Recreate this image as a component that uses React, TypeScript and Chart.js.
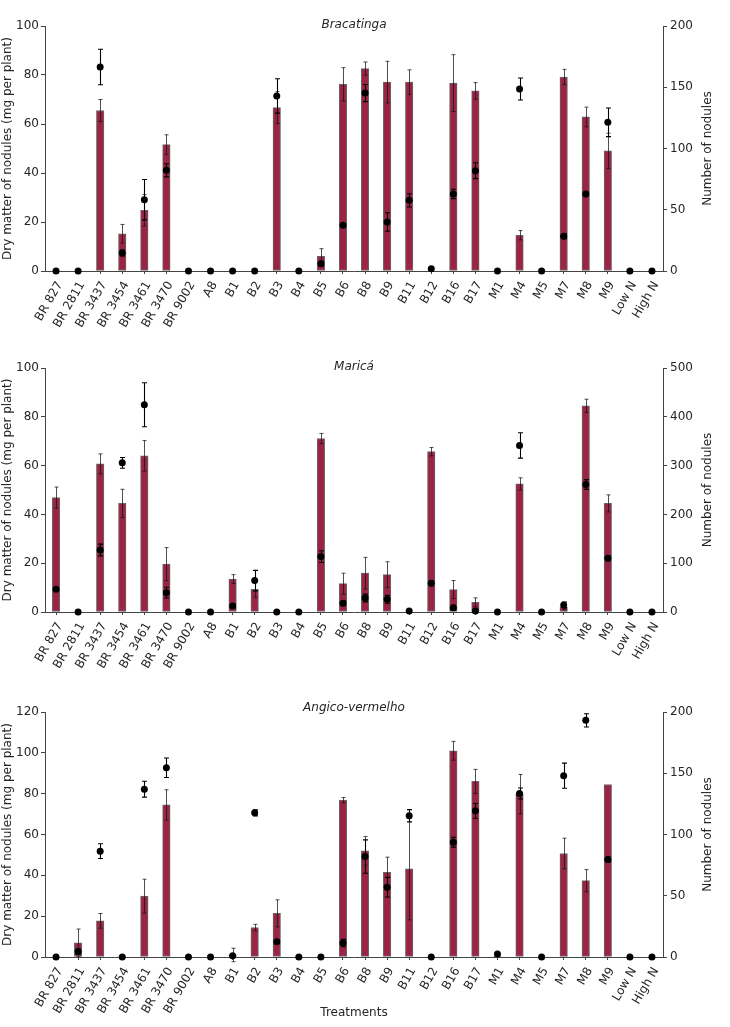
import React, { useEffect, useRef } from 'react';
import { Chart, registerables } from 'chart.js';

Chart.register(...registerables);
Chart.defaults.font.family = '"DejaVu Sans", sans-serif';
Chart.defaults.font.size = 12;
Chart.defaults.color = '#262626';

const categories = [
  'BR 827', 'BR 2811', 'BR 3437', 'BR 3454', 'BR 3461', 'BR 3470', 'BR 9002', 'A8', 'B1', 'B2',
  'B3', 'B4', 'B5', 'B6', 'B8', 'B9', 'B11', 'B12', 'B16', 'B17',
  'M1', 'M4', 'M5', 'M7', 'M8', 'M9', 'Low N', 'High N',
];

// Bracatinga
const bracatingaDry = [0, 0, 65.5, 15.2, 24.8, 51.6, 0, 0, 0, 0, 66.7, 0, 6.0, 76.2, 82.6, 77.1, 77.1, 0, 76.7, 73.5, 0, 14.6, 0, 79.2, 62.9, 49.0, 0, 0];
const bracatingaDryErr = [0, 0, 4.5, 3.8, 6.4, 4.0, 0, 0, 0, 0, 6.5, 0, 3.1, 6.8, 2.7, 8.5, 5.0, 0, 11.6, 3.4, 0, 1.9, 0, 3.1, 4.0, 7.2, 0, 0];
const bracatingaNod = [0, 0, 166.5, 14.7, 58.2, 82.2, 0, 0, 0, 0, 142.9, 0, 6, 37.3, 145.3, 40, 57.7, 1.9, 62.9, 81.9, 0, 148.6, 0, 28.3, 62.9, 121.4, 0, 0];
const bracatingaNodErr = [0, 0, 14.5, 2.5, 16.5, 5.4, 0, 0, 0, 0, 14, 0, 2, 1.5, 7, 7.6, 5.4, 1.5, 3.8, 6.5, 0, 9, 0, 2, 1.5, 11.7, 0, 0];

// Maricá
const maricaDry = [46.9, 0, 60.7, 44.5, 64.0, 19.6, 0, 0, 13.5, 9.3, 0, 0, 71.1, 11.6, 15.9, 15.3, 0, 65.7, 9.2, 4.0, 0, 52.5, 0, 1.9, 84.5, 44.5, 0, 0];
const maricaDryErr = [4.3, 0, 4.1, 5.8, 6.3, 6.8, 0, 0, 1.8, 3.3, 0, 0, 2.1, 4.3, 6.5, 5.3, 0, 1.7, 3.7, 1.8, 0, 2.5, 0, 1.0, 2.7, 3.5, 0, 0];
const maricaNod = [46.5, 0, 127, 305.7, 424.7, 39.7, 0, 0, 12.3, 64.3, 0, 0, 113.5, 17.8, 28.7, 26, 2, 58.8, 8.9, 2, 0, 341.3, 0, 14.4, 261.3, 110, 0, 0];
const maricaNodErr = [3, 0, 12, 11, 45, 11, 0, 0, 4, 21, 0, 0, 12, 5, 8, 8, 0, 5, 5, 0, 0, 26, 0, 6, 10, 5, 0, 0];

// Angico-vermelho
const angicoDry = [0, 6.9, 17.7, 0, 29.8, 74.5, 0, 0, 1.0, 14.4, 21.4, 0, 0, 76.8, 52.0, 41.5, 43.2, 0, 101, 86, 0.5, 79.8, 0, 50.7, 37.4, 84.5, 0, 0];
const angicoDryErr = [0, 6.8, 3.6, 0, 8.3, 7.4, 0, 0, 3.3, 1.6, 6.6, 0, 0, 1.3, 7, 7.4, 25, 0, 4.6, 5.9, 0, 9.6, 0, 7.5, 5.4, 0, 0, 0];
const angicoNod = [0, 4.4, 86.4, 0, 137, 154.5, 0, 0, 1, 117.7, 12.5, 0, 0, 11.4, 82, 57, 115.3, 0, 93.7, 119.3, 2.5, 133.5, 0, 148, 193.2, 79.6, 0, 0];
const angicoNodErr = [0, 2, 6, 0, 6.5, 8, 0, 0, 1, 2.5, 1.5, 0, 0, 3, 13.6, 8, 5, 0, 4, 6, 1, 4.4, 0, 10.3, 5.4, 2, 0, 0];

const BAR_COLOR = '#9b2445';
const AXIS_COLOR = '#444444';
const TEXT_COLOR = '#262626';

const errorBarPlugin = {
  id: 'errorBars',
  afterDatasetDraw(chart: any, args: any) {
    const ds: any = chart.data.datasets[args.index];
    const errs: number[] | undefined = ds.errors;
    if (!errs) return;
    const meta = args.meta;
    const yScale = chart.scales[meta.yAxisID];
    const ctx = chart.ctx;
    ctx.save();
    ctx.strokeStyle = ds.errorColor;
    ctx.lineWidth = ds.errorWidth;
    const cap = ds.errorCap;
    meta.data.forEach((el: any, i: number) => {
      const v = ds.data[i];
      const e = errs[i];
      if (!e || v == null) return;
      const x = Math.round(el.x) + 0.5;
      const yTop = yScale.getPixelForValue(v + e);
      const yBot = yScale.getPixelForValue(v - e);
      ctx.beginPath();
      ctx.moveTo(x, yTop);
      ctx.lineTo(x, yBot);
      ctx.moveTo(x - cap, yTop);
      ctx.lineTo(x + cap, yTop);
      ctx.moveTo(x - cap, yBot);
      ctx.lineTo(x + cap, yBot);
      ctx.stroke();
    });
    ctx.restore();
  },
};

const panelTextPlugin = {
  id: 'panelText',
  afterDraw(chart: any) {
    const o = chart.options.plugins.panelText;
    if (!o) return;
    const { ctx, chartArea } = chart;
    ctx.save();
    ctx.fillStyle = TEXT_COLOR;
    ctx.font = 'italic 12px "DejaVu Sans", sans-serif';
    ctx.textAlign = 'center';
    ctx.textBaseline = 'middle';
    ctx.fillText(o.title, (chartArea.left + chartArea.right) / 2, chartArea.top + o.titleDy);
    ctx.font = '12px "DejaVu Sans", sans-serif';
    ctx.translate(o.rightLabelX, (chartArea.top + chartArea.bottom) / 2);
    ctx.rotate(-Math.PI / 2);
    ctx.fillText(o.rightLabel, 0, 0);
    ctx.restore();
  },
};

type PanelProps = {
  top: number;
  height: number;
  areaTop: number;
  areaBottom: number;
  title: string;
  titleDy: number;
  dry: number[];
  dryErr: number[];
  nod: number[];
  nodErr: number[];
  leftMax: number;
  rightMax: number;
  rightStep: number;
  showX: boolean;
};

function Panel(p: PanelProps) {
  const ref = useRef<HTMLCanvasElement | null>(null);
  useEffect(() => {
    if (!ref.current) return;
    const xHeight = p.height - p.areaBottom;
    const chart = new Chart(ref.current, {
      type: 'bar',
      data: {
        labels: categories,
        datasets: [
          {
            type: 'bar',
            label: 'Dry matter',
            data: p.dry,
            yAxisID: 'y',
            backgroundColor: BAR_COLOR,
            borderColor: 'rgba(0,0,0,0.6)',
            borderWidth: 1,
            borderSkipped: false,
            barThickness: 7.5,
            order: 1,
            errors: p.dryErr,
            errorColor: 'rgba(20,20,20,0.75)',
            errorWidth: 1,
            errorCap: 2,
          } as any,
          {
            type: 'line',
            label: 'Number of nodules',
            data: p.nod,
            yAxisID: 'y1',
            showLine: false,
            pointRadius: 3.5,
            pointBackgroundColor: '#000',
            pointBorderColor: '#000',
            pointBorderWidth: 0,
            clip: false,
            order: 0,
            errors: p.nodErr,
            errorColor: '#000',
            errorWidth: 1.1,
            errorCap: 2.5,
          } as any,
        ],
      },
      options: {
        responsive: false,
        animation: false,
        events: [],
        layout: { padding: { top: p.areaTop, left: 0, right: 0, bottom: 0 } },
        plugins: {
          legend: { display: false },
          tooltip: { enabled: false },
          panelText: { title: p.title, titleDy: p.titleDy, rightLabel: 'Number of nodules', rightLabelX: 708 },
        } as any,
        scales: {
          x: {
            type: 'category',
            offset: true,
            grid: { display: true, offset: false, drawOnChartArea: false, drawTicks: true, tickLength: 3, color: AXIS_COLOR },
            border: { display: true, color: AXIS_COLOR, width: 1 },
            ticks: { autoSkip: false, minRotation: 60, maxRotation: 60, padding: 5, labelOffset: 4, color: TEXT_COLOR, font: { size: 12 } },
            title: { display: p.showX, text: 'Treatments', color: TEXT_COLOR, font: { size: 12 }, padding: { top: 0, bottom: 7 } },
            afterFit: (s: any) => { s.height = xHeight; },
          },
          y: {
            type: 'linear',
            position: 'left',
            min: 0,
            max: p.leftMax,
            grid: { display: true, drawOnChartArea: false, tickLength: 4, color: AXIS_COLOR },
            border: { display: true, color: AXIS_COLOR, width: 1 },
            ticks: { stepSize: 20, padding: 2, color: TEXT_COLOR, font: { size: 12 } },
            title: { display: true, text: 'Dry matter of nodules (mg per plant)', color: TEXT_COLOR, font: { size: 12 }, padding: { top: 1, bottom: 0 } },
            afterFit: (s: any) => { s.width = 45; },
          },
          y1: {
            type: 'linear',
            position: 'right',
            min: 0,
            max: p.rightMax,
            grid: { display: true, drawOnChartArea: false, tickLength: 4, color: AXIS_COLOR },
            border: { display: true, color: AXIS_COLOR, width: 1 },
            ticks: { stepSize: p.rightStep, padding: 3, color: TEXT_COLOR, font: { size: 12 } },
            afterFit: (s: any) => { s.width = 67; },
          },
        },
      } as any,
      plugins: [errorBarPlugin, panelTextPlugin],
    });
    return () => chart.destroy();
  }, []);
  return (
    <div style={{ position: 'absolute', left: 0, top: p.top, width: 730, height: p.height }}>
      <canvas ref={ref} width={730} height={p.height} style={{ display: 'block' }} />
    </div>
  );
}

export default function App() {
  return (
    <div style={{ position: 'absolute', left: 0, top: 0, width: 730, height: 1027, background: '#fff' }}>
      <Panel top={0} height={345} areaTop={26} areaBottom={271} title="Bracatinga" titleDy={-1}
        dry={bracatingaDry} dryErr={bracatingaDryErr} nod={bracatingaNod} nodErr={bracatingaNodErr}
        leftMax={100} rightMax={200} rightStep={50} showX={false} />
      <Panel top={345} height={345} areaTop={23} areaBottom={267} title="Maricá" titleDy={-1}
        dry={maricaDry} dryErr={maricaDryErr} nod={maricaNod} nodErr={maricaNodErr}
        leftMax={100} rightMax={500} rightStep={100} showX={false} />
      <Panel top={690} height={337} areaTop={22} areaBottom={267} title="Angico-vermelho" titleDy={-4}
        dry={angicoDry} dryErr={angicoDryErr} nod={angicoNod} nodErr={angicoNodErr}
        leftMax={120} rightMax={200} rightStep={50} showX={true} />
    </div>
  );
}
